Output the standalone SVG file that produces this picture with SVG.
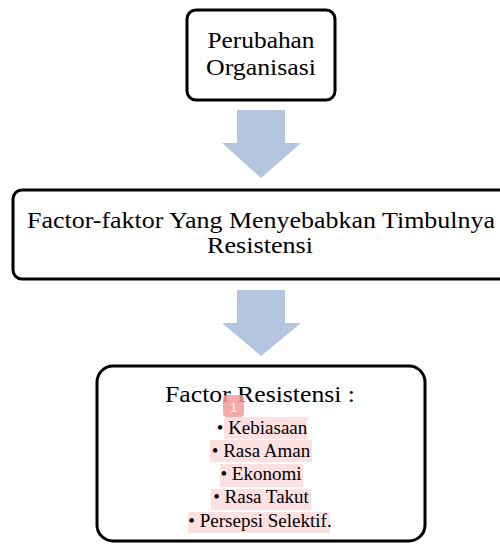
<svg xmlns="http://www.w3.org/2000/svg" width="500" height="544" viewBox="0 0 500 544">
<style>
.box{fill:#fff;stroke:#000;stroke-width:3}
.t{font-family:"Liberation Serif","Times New Roman",serif;fill:#000;text-anchor:middle}
.big{font-size:24px}
.sm{font-size:19px}
.arrow{fill:#b4c5df}
.hl{fill:#fde0e0}
</style>
<rect width="500" height="544" fill="#fff"/>
<g id="connectors">
<polygon class="arrow" points="237,110 285,110 285,143 301,143 261,178 222,143 237,143"/>
<polygon class="arrow" points="237,290 285,290 285,323 301,323 261,356 222,323 237,323"/>
</g>
<g id="node-perubahan">
<rect class="box" x="187" y="10" width="148" height="90" rx="9"/>
<text class="t big" x="261" y="48" textLength="107" lengthAdjust="spacingAndGlyphs">Perubahan</text>
<text class="t big" x="261" y="75" textLength="110" lengthAdjust="spacingAndGlyphs">Organisasi</text>
</g>
<g id="node-factor">
<rect class="box" x="13" y="190" width="500" height="89" rx="9"/>
<text class="t big" x="261" y="228" textLength="468" lengthAdjust="spacingAndGlyphs">Factor-faktor Yang Menyebabkan Timbulnya</text>
<text class="t big" x="260" y="253" textLength="106" lengthAdjust="spacingAndGlyphs">Resistensi</text>
</g>
<g id="node-resistensi">
<rect class="box" x="97" y="366" width="328" height="175" rx="16"/>
<text class="t big" x="260" y="402" textLength="190" lengthAdjust="spacingAndGlyphs">Factor Resistensi :</text>
<rect class="hl" x="224" y="417" width="83" height="22"/>
<rect class="hl" x="210" y="440" width="102" height="22"/>
<rect class="hl" x="220" y="464" width="83" height="23"/>
<rect class="hl" x="211" y="489" width="100" height="21"/>
<rect class="hl" x="188" y="512" width="142" height="21"/>
<text class="t sm" x="262" y="434">• Kebiasaan</text>
<text class="t sm" x="261" y="457">• Rasa Aman</text>
<text class="t sm" x="261" y="480">• Ekonomi</text>
<text class="t sm" x="261" y="503">• Rasa Takut</text>
<text class="t sm" x="260" y="527">• Persepsi Selektif.</text>
<rect x="223" y="395" width="21" height="22" rx="4" fill="#f59a9a" fill-opacity="0.85"/>
<text x="233.5" y="412" font-family="'Liberation Sans',Arial,sans-serif" font-size="13" fill="#fff" text-anchor="middle">1</text>
</g>
</svg>
